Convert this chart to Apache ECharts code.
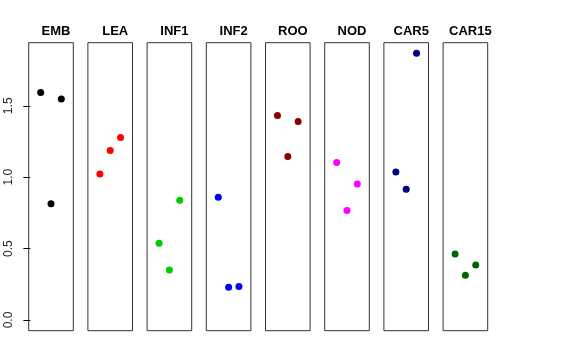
<!DOCTYPE html>
<html><head><meta charset="utf-8">
<script src="https://cdn.jsdelivr.net/npm/echarts@6/dist/echarts.min.js"></script>
<style>html,body{margin:0;padding:0;background:#fff}#c{width:576px;height:360px}</style>
</head><body><div id="c"></div>
<script>
const categories = ['EMB','LEA','INF1','INF2','ROO','NOD','CAR5','CAR15'];
const colors = ['#000000','#FF0000','#00CD00','#0000FF','#8B0000','#FF00FF','#000080','#006400'];
const valEMB = [1.593, 0.815, 1.547];
const valLEA = [1.023, 1.187, 1.278];
const valINF1 = [0.537, 0.350, 0.839];
const valINF2 = [0.860, 0.229, 0.234];
const valROO = [1.432, 1.145, 1.390];
const valNOD = [1.103, 0.766, 0.953];
const valCAR5 = [1.037, 0.916, 1.867];
const valCAR15 = [0.463, 0.313, 0.386];
const seriesValues = [valEMB, valLEA, valINF1, valINF2, valROO, valNOD, valCAR5, valCAR15];
const xPositions = [1, 2, 3];
const yTickLabels = [0, 0.5, 1.0, 1.5];

(function () {
  const yMax = 1.867, yPad = yMax * 0.04;
  const grids = [], xAxes = [], yAxes = [], series = [], titles = [];
  const left0 = 28.7, step = 59.2, w = 44.6, gTop = 42.7, gH = 288;
  categories.forEach((name, i) => {
    const l = left0 + i * step;
    grids.push({left: l, top: gTop, width: w, height: gH, show: true, borderColor: '#333', borderWidth: 1, backgroundColor: 'transparent'});
    xAxes.push({type: 'value', gridIndex: i, min: -0.16, max: 4.16, show: false});
    yAxes.push({
      type: 'value', gridIndex: i, min: -yPad, max: yMax + yPad, show: i === 0,
      axisLine: {show: false}, splitLine: {show: false},
      axisTick: {show: true, length: 7, lineStyle: {color: '#000'}, customValues: yTickLabels},
      axisLabel: {show: true, rotate: 90, margin: 14, fontSize: 12, color: '#222', fontFamily: 'Liberation Sans, Arial, sans-serif',
        customValues: yTickLabels, formatter: v => Number(v).toFixed(1)}
    });
    series.push({type: 'scatter', xAxisIndex: i, yAxisIndex: i, symbolSize: 7,
      itemStyle: {color: colors[i], opacity: 1},
      data: seriesValues[i].map((v, k) => [xPositions[k], v])});
    titles.push({text: name, left: l + w / 2, top: 20, textAlign: 'center',
      textStyle: {fontSize: 13, fontWeight: 'bold', color: '#000', fontFamily: 'Liberation Sans, Arial, sans-serif'}});
  });
  const chart = echarts.init(document.getElementById('c'), null, {renderer: 'canvas'});
  chart.setOption({animation: false, title: titles, grid: grids, xAxis: xAxes, yAxis: yAxes, series: series});
})();
</script></body></html>
